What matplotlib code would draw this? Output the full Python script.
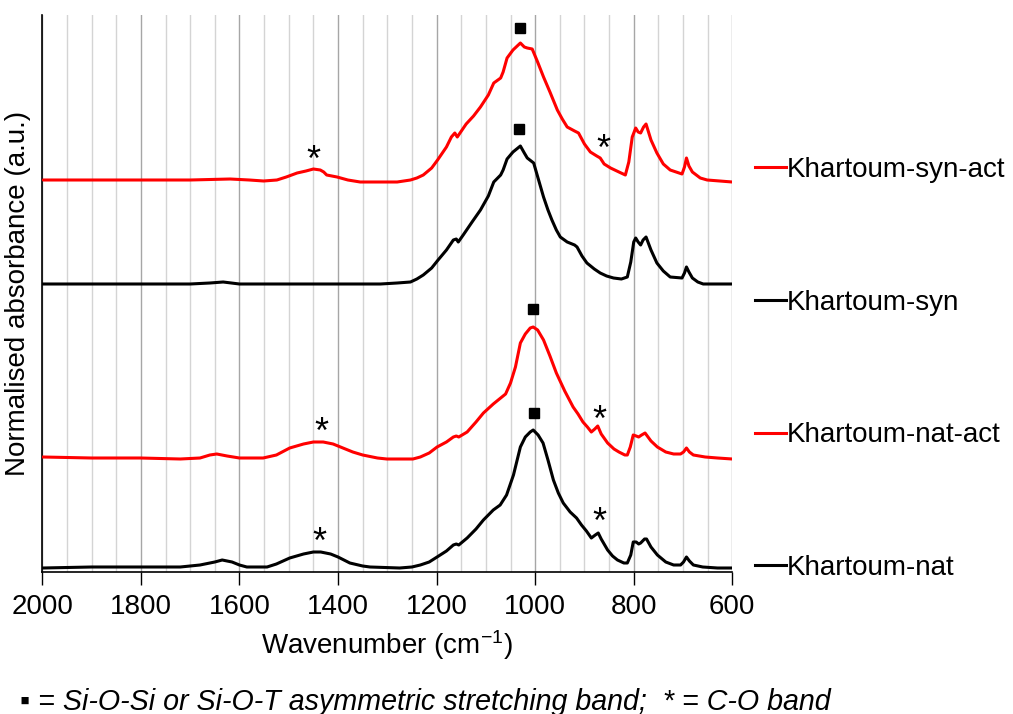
import numpy as np
import matplotlib
matplotlib.use("Agg")
import matplotlib.pyplot as plt
from matplotlib.lines import Line2D

plt.rcParams['font.family'] = ['Liberation Sans', 'DejaVu Sans']
plt.rcParams['mathtext.fontset'] = 'custom'
plt.rcParams['mathtext.rm'] = 'Liberation Sans'
plt.rcParams['mathtext.it'] = 'Liberation Sans:italic'

# spectra (wavenumber in cm-1, stacked absorbance in a.u.)
nat_wn = [1999, 1900, 1801, 1720, 1680, 1650, 1635, 1615, 1600, 1585, 1544, 1525, 1498, 1470,
          1450, 1435, 1415, 1400, 1376, 1350, 1335, 1275, 1250, 1233, 1215, 1199, 1180, 1166,
          1160, 1155, 1138, 1120, 1105, 1085, 1071, 1058, 1044, 1030, 1020, 1010, 1004, 994,
          984, 974, 963, 953, 943, 929, 916, 906, 896, 886, 878, 872, 866, 853, 843, 833, 820,
          813, 806, 801, 795, 790, 786, 778, 774, 765, 752, 735, 719, 705, 699, 693, 687, 679,
          660, 630, 600]
nat_abs = [0.04, 0.05, 0.05, 0.05, 0.07, 0.10, 0.12, 0.10, 0.07, 0.05, 0.05, 0.08, 0.14, 0.18,
           0.20, 0.20, 0.18, 0.15, 0.09, 0.06, 0.05, 0.04, 0.05, 0.07, 0.10, 0.15, 0.21, 0.27,
           0.28, 0.27, 0.34, 0.43, 0.52, 0.62, 0.67, 0.77, 0.97, 1.25, 1.35, 1.40, 1.42, 1.37,
           1.29, 1.12, 0.92, 0.79, 0.69, 0.60, 0.54, 0.47, 0.41, 0.34, 0.37, 0.39, 0.33, 0.22,
           0.16, 0.12, 0.09, 0.09, 0.17, 0.30, 0.30, 0.28, 0.29, 0.33, 0.33, 0.25, 0.17, 0.10,
           0.07, 0.07, 0.10, 0.15, 0.11, 0.07, 0.05, 0.04, 0.04]

nat_act_wn = [1999, 1900, 1801, 1720, 1680, 1660, 1646, 1625, 1600, 1585, 1552, 1525, 1498,
              1470, 1450, 1430, 1410, 1390, 1370, 1350, 1320, 1301, 1248, 1233, 1215, 1199,
              1180, 1166, 1160, 1155, 1138, 1120, 1105, 1085, 1075, 1060, 1050, 1040, 1030,
              1020, 1010, 1004, 995, 983, 970, 957, 940, 923, 913, 903, 894, 886, 879, 873, 866,
              853, 840, 830, 818, 813, 807, 801, 795, 790, 784, 777, 765, 752, 735, 719, 705,
              699, 693, 687, 679, 655, 630, 600]
nat_act_abs = [1.15, 1.14, 1.14, 1.13, 1.14, 1.17, 1.18, 1.16, 1.14, 1.14, 1.14, 1.17, 1.24,
               1.28, 1.30, 1.30, 1.28, 1.24, 1.20, 1.17, 1.14, 1.13, 1.13, 1.15, 1.19, 1.25,
               1.30, 1.35, 1.36, 1.35, 1.40, 1.50, 1.59, 1.68, 1.72, 1.78, 1.89, 2.05, 2.29,
               2.38, 2.44, 2.45, 2.42, 2.32, 2.16, 1.99, 1.81, 1.65, 1.58, 1.50, 1.45, 1.40, 1.43,
               1.46, 1.38, 1.29, 1.23, 1.20, 1.17, 1.17, 1.25, 1.37, 1.36, 1.35, 1.37, 1.39, 1.31,
               1.25, 1.20, 1.18, 1.18, 1.20, 1.24, 1.20, 1.17, 1.15, 1.14, 1.13]

syn_wn = [1999, 1800, 1700, 1660, 1633, 1600, 1580, 1400, 1314, 1280, 1253, 1240, 1227, 1210,
          1197, 1180, 1166, 1160, 1156, 1146, 1128, 1111, 1095, 1084, 1070, 1065, 1057, 1045,
          1030, 1022, 1016, 1003, 993, 983, 974, 966, 957, 949, 935, 920, 915, 905, 895, 880,
          868, 855, 841, 825, 813, 806, 800, 796, 791, 786, 781, 775, 765, 753, 740, 726, 702,
          697, 693, 688, 681, 670, 659, 600]
syn_abs = [2.88, 2.88, 2.88, 2.89, 2.90, 2.88, 2.88, 2.88, 2.88, 2.89, 2.90, 2.93, 2.97, 3.04,
           3.12, 3.22, 3.32, 3.33, 3.30, 3.37, 3.50, 3.62, 3.76, 3.90, 3.97, 4.02, 4.13, 4.20,
           4.26, 4.19, 4.14, 4.09, 3.92, 3.75, 3.62, 3.52, 3.42, 3.35, 3.30, 3.27, 3.25, 3.16,
           3.09, 3.03, 2.99, 2.96, 2.94, 2.93, 2.95, 3.10, 3.30, 3.34, 3.30, 3.27, 3.32, 3.35,
           3.22, 3.09, 3.01, 2.95, 2.94, 2.99, 3.05, 3.00, 2.94, 2.90, 2.88, 2.88]

syn_act_wn = [1998, 1900, 1822, 1700, 1619, 1580, 1551, 1524, 1505, 1483, 1465, 1450, 1436, 1429,
              1423, 1402, 1380, 1355, 1280, 1253, 1240, 1227, 1210, 1198, 1180, 1170, 1163, 1158,
              1140, 1125, 1111, 1095, 1084, 1070, 1065, 1057, 1045, 1030, 1022, 1016, 1006, 995,
              983, 970, 955, 945, 935, 920, 912, 900, 888, 875, 868, 860, 847, 830, 817, 810, 803,
              796, 791, 786, 780, 775, 765, 753, 740, 726, 702, 697, 693, 688, 681, 665, 651, 600]
syn_act_abs = [3.92, 3.92, 3.92, 3.92, 3.93, 3.92, 3.91, 3.92, 3.95, 3.99, 4.01, 4.03, 4.02, 4.00,
               3.97, 3.95, 3.92, 3.90, 3.90, 3.92, 3.94, 3.97, 4.04, 4.12, 4.25, 4.35, 4.39, 4.35,
               4.48, 4.56, 4.65, 4.77, 4.89, 4.94, 5.00, 5.14, 5.22, 5.29, 5.25, 5.24, 5.23, 5.10,
               4.95, 4.80, 4.62, 4.53, 4.45, 4.41, 4.39, 4.28, 4.20, 4.16, 4.14, 4.08, 4.04, 4.00,
               3.97, 4.10, 4.35, 4.44, 4.40, 4.39, 4.45, 4.48, 4.32, 4.19, 4.08, 4.02, 3.98, 4.05,
               4.14, 4.06, 4.00, 3.94, 3.92, 3.90]

# band markers
square_wn = [1030, 1032, 1004, 1002]
square_abs = [5.44, 4.43, 2.63, 1.59]
star_wn = [1450, 862, 1434, 1438, 870, 870]
star_abs = [4.19, 4.30, 1.47, 0.37, 1.59, 0.57]

series = [
    ("Khartoum-syn-act", syn_act_wn, syn_act_abs, "#ff0000"),
    ("Khartoum-syn", syn_wn, syn_abs, "black"),
    ("Khartoum-nat-act", nat_act_wn, nat_act_abs, "#ff0000"),
    ("Khartoum-nat", nat_wn, nat_abs, "black"),
]

fig = plt.figure(figsize=(10.13, 7.14), dpi=100)
ax = fig.add_axes([42.3 / 1013, 142 / 714, 690 / 1013, 557 / 714])

handles = []
for name, wn, a, c in series:
    ax.plot(wn, a, color=c, lw=2.2, solid_joinstyle='round', solid_capstyle='round', zorder=3)
    handles.append(Line2D([], [], color=c, lw=2.2, label=name))

ax.plot(square_wn, square_abs, ls='none', marker='s', ms=6.5, color='black', zorder=4)
for w, a in zip(star_wn, star_abs):
    ax.annotate('*', (w, a), xytext=(0, -13), textcoords='offset points',
                ha='center', va='baseline', fontsize=26, zorder=4)

ax.set_xlim(2000, 600)
ax.set_ylim(0, 5.57)
ax.set_xticks(np.arange(600, 2001, 200))
ax.set_xticks(np.arange(600, 2001, 50), minor=True)
ax.set_yticks([])
ax.set_axisbelow(True)
ax.grid(which='minor', axis='x', color='#d4d4d4', lw=1)
ax.grid(which='major', axis='x', color='#a6a6a6', lw=1)
ax.tick_params(axis='x', which='major', direction='out', length=9, width=1, pad=6.5, labelsize=20)
ax.tick_params(axis='x', which='minor', length=0)
for s in ['top', 'right']:
    ax.spines[s].set_visible(False)
for s in ['left', 'bottom']:
    ax.spines[s].set_linewidth(1.2)

ax.set_xlabel(r'Wavenumber (cm$^{\mathregular{-1}}$)', fontsize=20, labelpad=6)
ax.set_ylabel('Normalised absorbance (a.u.)', fontsize=20, labelpad=8)

ax.legend(handles=handles, loc='upper left', bbox_to_anchor=(755 / 1013, (714 - 157) / 714),
          bbox_transform=fig.transFigure, frameon=False, fontsize=20, handlelength=1.1,
          handletextpad=0.05, labelspacing=3.84, borderpad=0, borderaxespad=0)

fig.text(20 / 1013, 1 - 702 / 714,
         '\u25aa = Si-O-Si or Si-O-T asymmetric stretching band;  * = C-O band',
         fontsize=20.6, style='italic', va='center', ha='left')

fig.savefig('out.png', dpi=100)
